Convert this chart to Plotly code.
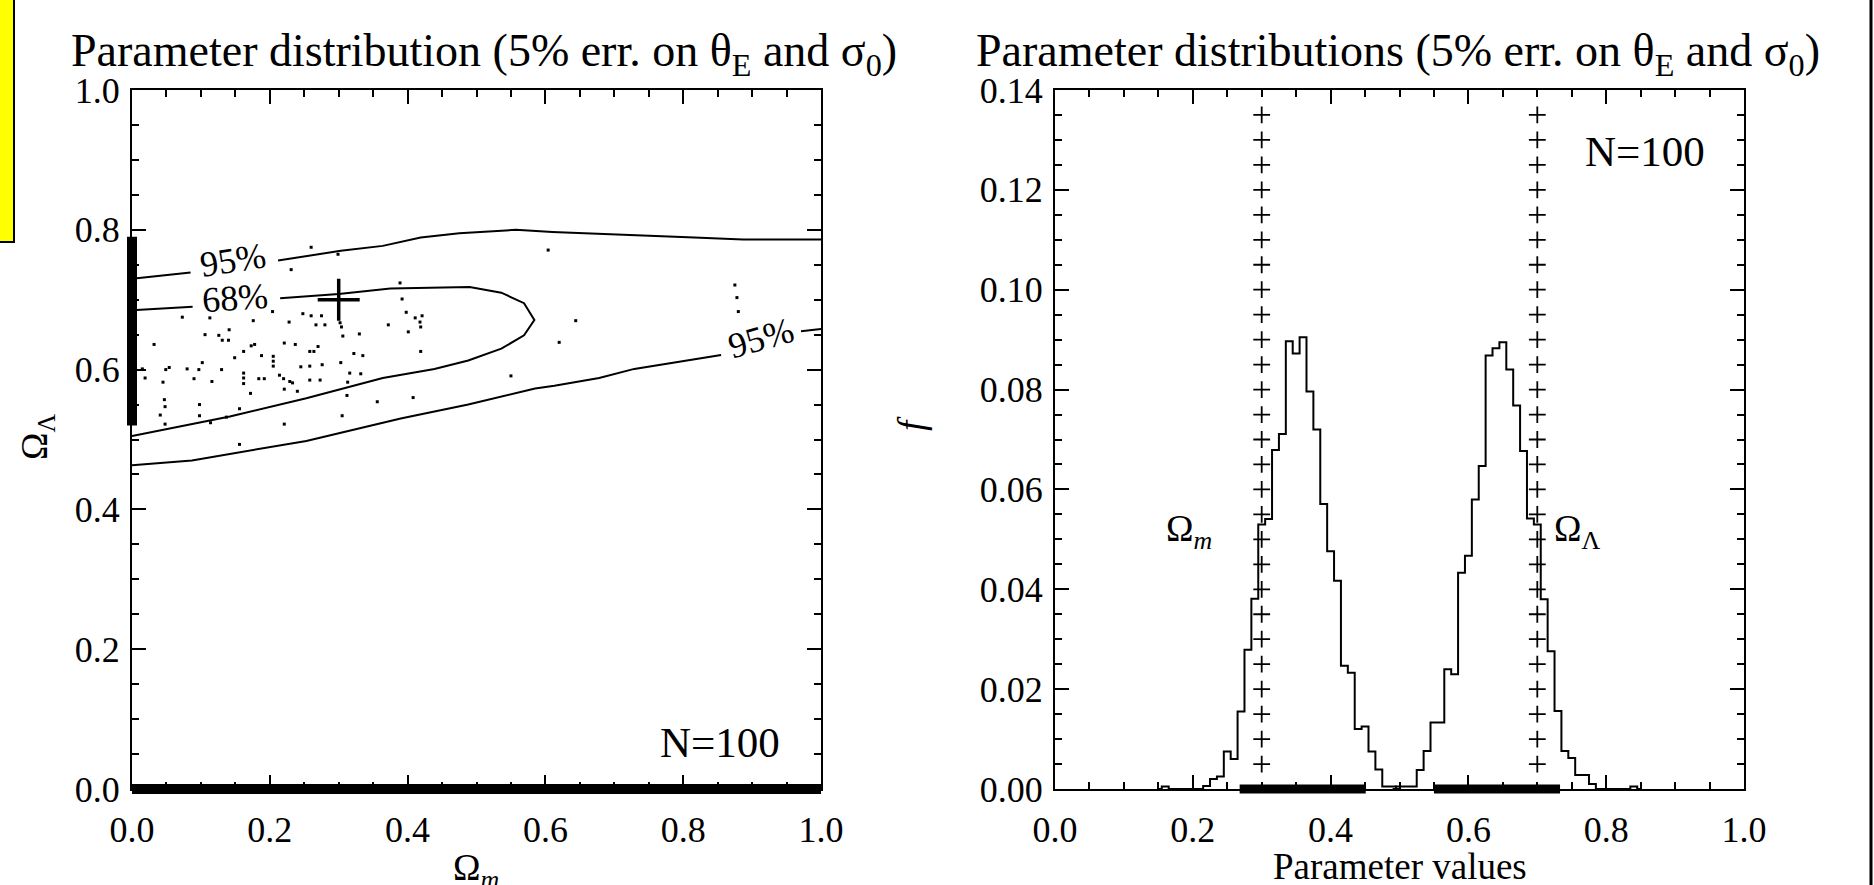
import plotly.graph_objects as go

FONT = "Liberation Serif"

# ---------------- Left panel data ----------------
TRUE_OM = [0.3]
TRUE_OL = [0.7]

# traced contours (None = gap where the contour label sits)
c95_up_x = [0.0, 0.040, 0.085, None, 0.212, 0.303, 0.364, 0.419, 0.475, 0.557, 0.610, 0.700, 0.760, 0.816, 0.887, 1.0]
c95_up_y = [0.730, 0.734, 0.739, None, 0.756, 0.770, 0.777, 0.789, 0.795, 0.800, 0.797, 0.794, 0.791, 0.789, 0.786, 0.786]

c68_x = [0.0, 0.088, None, 0.215, 0.300, 0.375, 0.490, 0.536, 0.569, 0.584, 0.569, 0.536, 0.488, 0.439, 0.364, 0.253, 0.142, 0.0]
c68_y = [0.685, 0.690, None, 0.702, 0.708, 0.716, 0.718, 0.710, 0.695, 0.671, 0.649, 0.630, 0.613, 0.601, 0.588, 0.559, 0.533, 0.505]

c95_lo_x = [0.0, 0.087, 0.253, 0.390, 0.488, 0.585, 0.613, 0.678, 0.729, 0.855, None, 0.971, 1.0]
c95_lo_y = [0.463, 0.470, 0.498, 0.530, 0.550, 0.573, 0.577, 0.588, 0.601, 0.621, None, 0.655, 0.658]

# simulated best-fit points (N=100)
pts_x = [0.260, 0.299, 0.231, 0.389, 0.604, 0.073, 0.113, 0.176, 0.204, 0.248, 0.260, 0.275, 0.228, 0.267,
         0.280, 0.302, 0.372, 0.392, 0.398, 0.411, 0.421, 0.418, 0.419, 0.401, 0.106, 0.126, 0.131, 0.140,
         0.141, 0.032, 0.178, 0.162, 0.173, 0.221, 0.237, 0.270, 0.258, 0.264, 0.205, 0.205, 0.205, 0.188,
         0.149, 0.102, 0.080, 0.097, 0.049, 0.054, 0.015, 0.019, 0.090, 0.130, 0.116, 0.045, 0.162, 0.162,
         0.162, 0.184, 0.192, 0.214, 0.220, 0.229, 0.233, 0.245, 0.258, 0.276, 0.303, 0.322, 0.335, 0.330,
         0.306, 0.419, 0.258, 0.273, 0.316, 0.332, 0.313, 0.221, 0.240, 0.172, 0.047, 0.048, 0.098, 0.041,
         0.098, 0.137, 0.156, 0.114, 0.048, 0.221, 0.305, 0.312, 0.356, 0.408, 0.550, 0.620, 0.644, 0.156,
         0.304, 0.875, 0.878, 0.880]
pts_y = [0.775, 0.765, 0.743, 0.724, 0.771, 0.675, 0.674, 0.670, 0.683, 0.680, 0.677, 0.677, 0.668, 0.664,
         0.664, 0.667, 0.664, 0.701, 0.682, 0.674, 0.677, 0.668, 0.661, 0.654, 0.650, 0.649, 0.642, 0.642,
         0.657, 0.636, 0.636, 0.626, 0.634, 0.638, 0.636, 0.633, 0.626, 0.626, 0.619, 0.612, 0.605, 0.620,
         0.617, 0.610, 0.601, 0.600, 0.600, 0.603, 0.601, 0.588, 0.587, 0.600, 0.583, 0.582, 0.595, 0.588,
         0.580, 0.587, 0.587, 0.592, 0.587, 0.583, 0.581, 0.604, 0.605, 0.607, 0.610, 0.623, 0.620, 0.651,
         0.648, 0.626, 0.585, 0.585, 0.595, 0.594, 0.582, 0.572, 0.569, 0.566, 0.557, 0.547, 0.550, 0.535,
         0.534, 0.532, 0.544, 0.524, 0.522, 0.522, 0.534, 0.563, 0.554, 0.560, 0.591, 0.639, 0.670, 0.493,
         0.661, 0.721, 0.703, 0.683]

OM_RANGE = [0.0, 1.0]     # 1D interval marked on x axis (left panel)
OL_RANGE = [0.52, 0.79]   # 1D interval marked on y axis (left panel)

# ---------------- Right panel data ----------------
om_bins = [0.15, 0.16, 0.17, 0.21, 0.22, 0.23, 0.24, 0.25, 0.26, 0.27, 0.28, 0.29, 0.30, 0.31, 0.32, 0.33,
           0.34, 0.35, 0.36, 0.37, 0.38, 0.39, 0.40, 0.41, 0.42, 0.43, 0.44, 0.45, 0.46, 0.47, 0.48, 0.49, 0.50]
om_f = [0.0, 0.0005, 0.0, 0.0, 0.0006, 0.0020, 0.0025, 0.0075, 0.0060, 0.0155, 0.0279, 0.0381, 0.0530,
        0.0541, 0.0679, 0.0711, 0.0897, 0.0872, 0.0905, 0.0796, 0.0720, 0.0571, 0.0476, 0.0417, 0.0247,
        0.0233, 0.0120, 0.0125, 0.0075, 0.0039, 0.0005, 0.0005, 0.0]

ol_bins = [0.49, 0.50, 0.51, 0.52, 0.53, 0.54, 0.55, 0.56, 0.57, 0.58, 0.59, 0.60, 0.61, 0.62, 0.63, 0.64,
           0.65, 0.66, 0.67, 0.68, 0.69, 0.70, 0.71, 0.72, 0.73, 0.74, 0.75, 0.76, 0.77, 0.78, 0.79, 0.83,
           0.84, 0.85]
ol_f = [0.0, 0.0005, 0.0005, 0.0005, 0.0038, 0.0076, 0.0133, 0.0133, 0.0240, 0.0230, 0.0433, 0.0467,
        0.0580, 0.0647, 0.0868, 0.0883, 0.0895, 0.0840, 0.0768, 0.0677, 0.0542, 0.0530, 0.0380, 0.0276,
        0.0156, 0.0076, 0.0062, 0.0028, 0.0028, 0.0010, 0.0, 0.0, 0.0005, 0.0]

TRUE_VALUES = [0.3, 0.7]
PLUS_LEVELS = [0.005, 0.010, 0.015, 0.020, 0.025, 0.030, 0.035, 0.040, 0.045, 0.050, 0.055, 0.060, 0.065,
               0.070, 0.075, 0.080, 0.085, 0.090, 0.095, 0.100, 0.105, 0.110, 0.115, 0.120, 0.125, 0.130,
               0.135]
OM_INTERVAL = [0.268, 0.451]
OL_INTERVAL = [0.550, 0.733]

# ---------------- Figure ----------------
W, H = 1874, 885
fig = go.Figure()

line_k = dict(color="black", width=2)
for cx, cy in [(c95_up_x, c95_up_y), (c68_x, c68_y), (c95_lo_x, c95_lo_y)]:
    fig.add_trace(go.Scatter(x=cx, y=cy, mode="lines", line=line_k, xaxis="x", yaxis="y",
                             connectgaps=False, hoverinfo="skip"))

fig.add_trace(go.Scatter(x=pts_x, y=pts_y, mode="markers", xaxis="x", yaxis="y",
                         marker=dict(size=3, color="black", symbol="square")))
fig.add_trace(go.Scatter(x=TRUE_OM, y=TRUE_OL, mode="markers", xaxis="x", yaxis="y",
                         marker=dict(symbol="cross-thin", size=30, line=dict(color="black", width=3.5))))

fig.add_trace(go.Scatter(x=om_bins, y=om_f, mode="lines", line=dict(color="black", width=2, shape="hvh"),
                         xaxis="x2", yaxis="y2"))
fig.add_trace(go.Scatter(x=ol_bins, y=ol_f, mode="lines", line=dict(color="black", width=2, shape="hvh"),
                         xaxis="x2", yaxis="y2"))
for tv in TRUE_VALUES:
    fig.add_trace(go.Scatter(x=[tv] * len(PLUS_LEVELS), y=PLUS_LEVELS, mode="markers", xaxis="x2", yaxis="y2",
                             marker=dict(symbol="cross-thin", size=12, line=dict(color="black", width=1.8))))

# domains (absolute pixel layout, zero margins)
xdom1 = [132 / W, 821 / W]
xdom2 = [1055 / W, 1744 / W]
ydom = [(H - 789) / H, (H - 90) / H]

tickfont = dict(family=FONT, size=36, color="black")
common = dict(showgrid=False, zeroline=False, showline=True, linecolor="black", linewidth=2,
              mirror="allticks", ticks="inside", ticklen=14, tickwidth=2, tickcolor="black",
              tickfont=tickfont, automargin=False)
minor_x = dict(dtick=0.05, ticks="inside", ticklen=7, tickwidth=1.5, tickcolor="black")

fig.update_layout(
    width=W, height=H, autosize=False,
    margin=dict(l=0, r=0, t=0, b=0, pad=0),
    paper_bgcolor="white", plot_bgcolor="white",
    showlegend=False,
    xaxis=dict(domain=xdom1, anchor="y", range=[0, 1], dtick=0.2, tickformat=".1f",
               ticklabelstandoff=8, minor=minor_x, **common),
    yaxis=dict(domain=ydom, anchor="x", range=[0, 1], dtick=0.2, tickformat=".1f",
               ticklabelstandoff=3, minor=minor_x, **common),
    xaxis2=dict(domain=xdom2, anchor="y2", range=[0, 1], dtick=0.2, tickformat=".1f",
                ticklabelstandoff=8, minor=minor_x, **common),
    yaxis2=dict(domain=ydom, anchor="x2", range=[0, 0.14], dtick=0.02, tickformat=".2f",
                ticklabelstandoff=3,
                minor=dict(dtick=0.005, ticks="inside", ticklen=7, tickwidth=1.5, tickcolor="black"), **common),
)

# interval bars on the axes
bar = dict(color="black", width=10)
fig.add_shape(type="line", xref="x domain", yref="y", x0=0, x1=0, y0=OL_RANGE[0], y1=OL_RANGE[1],
              line=bar, layer="above")
fig.add_shape(type="line", xref="x", yref="y domain", x0=OM_RANGE[0], x1=OM_RANGE[1], y0=0, y1=0,
              line=bar, layer="above")
fig.add_shape(type="line", xref="x2", yref="y2 domain", x0=OM_INTERVAL[0], x1=OM_INTERVAL[1], y0=0, y1=0,
              line=dict(color="black", width=9), layer="above")
fig.add_shape(type="line", xref="x2", yref="y2 domain", x0=OL_INTERVAL[0], x1=OL_INTERVAL[1], y0=0, y1=0,
              line=dict(color="black", width=9), layer="above")

# decorations: yellow box at top-left and page border on the right
fig.add_shape(type="rect", xref="paper", yref="paper", x0=-0.01, x1=14 / W, y0=1 - 242 / H, y1=1.01,
              fillcolor="#FFFF00", line=dict(color="black", width=2), layer="above")
fig.add_shape(type="line", xref="paper", yref="paper", x0=1871 / W, x1=1871 / W, y0=0, y1=1,
              line=dict(color="black", width=3), layer="above")


def ann(text, x, y, xref="paper", yref="paper", size=36, **kw):
    fig.add_annotation(text=text, x=x, y=y, xref=xref, yref=yref, showarrow=False,
                       font=dict(family=FONT, size=size, color="black"), **kw)


# titles
ann("Parameter distribution (5% err. on θ<sub>E</sub> and σ<sub>0</sub>)", 484 / W, 1 - 54 / H, size=46,
    xanchor="center", yanchor="middle")
ann("Parameter distributions (5% err. on θ<sub>E</sub> and σ<sub>0</sub>)", 1398 / W, 1 - 54 / H, size=46,
    xanchor="center", yanchor="middle")

# axis titles
ann("Ω<sub><i>m</i></sub>", 476 / W, 1 - 870 / H, size=37, xanchor="center", yanchor="middle")
ann("Parameter values", 1400 / W, 1 - 866 / H, size=37, xanchor="center", yanchor="middle")
ann("Ω<sub>Λ</sub>", 37 / W, 1 - 437 / H, size=37, xanchor="center", yanchor="middle", textangle=-90)
ann("<i>f</i>", 911 / W, 1 - 424 / H, size=37, xanchor="center", yanchor="middle", textangle=-90)

# in-panel labels
ann("N=100", 0.943, 0.066, xref="x", yref="y", size=43, xanchor="right", yanchor="middle")
ann("N=100", 0.947, 0.1276, xref="x2", yref="y2", size=43, xanchor="right", yanchor="middle")
ann("Ω<sub><i>m</i></sub>", 0.195, 0.0516, xref="x2", yref="y2", size=37, xanchor="center", yanchor="middle")
ann("Ω<sub>Λ</sub>", 0.758, 0.0516, xref="x2", yref="y2", size=37, xanchor="center", yanchor="middle")

# contour labels
ann("95%", 0.147, 0.757, xref="x", yref="y", size=36, xanchor="center", yanchor="middle", textangle=-9)
ann("68%", 0.150, 0.703, xref="x", yref="y", size=36, xanchor="center", yanchor="middle", textangle=-4)
ann("95%", 0.913, 0.645, xref="x", yref="y", size=36, xanchor="center", yanchor="middle", textangle=-16)

fig.write_html("out.html", config={"displayModeBar": False},
               post_script="document.body.style.margin='0';document.body.style.overflow='hidden';")
